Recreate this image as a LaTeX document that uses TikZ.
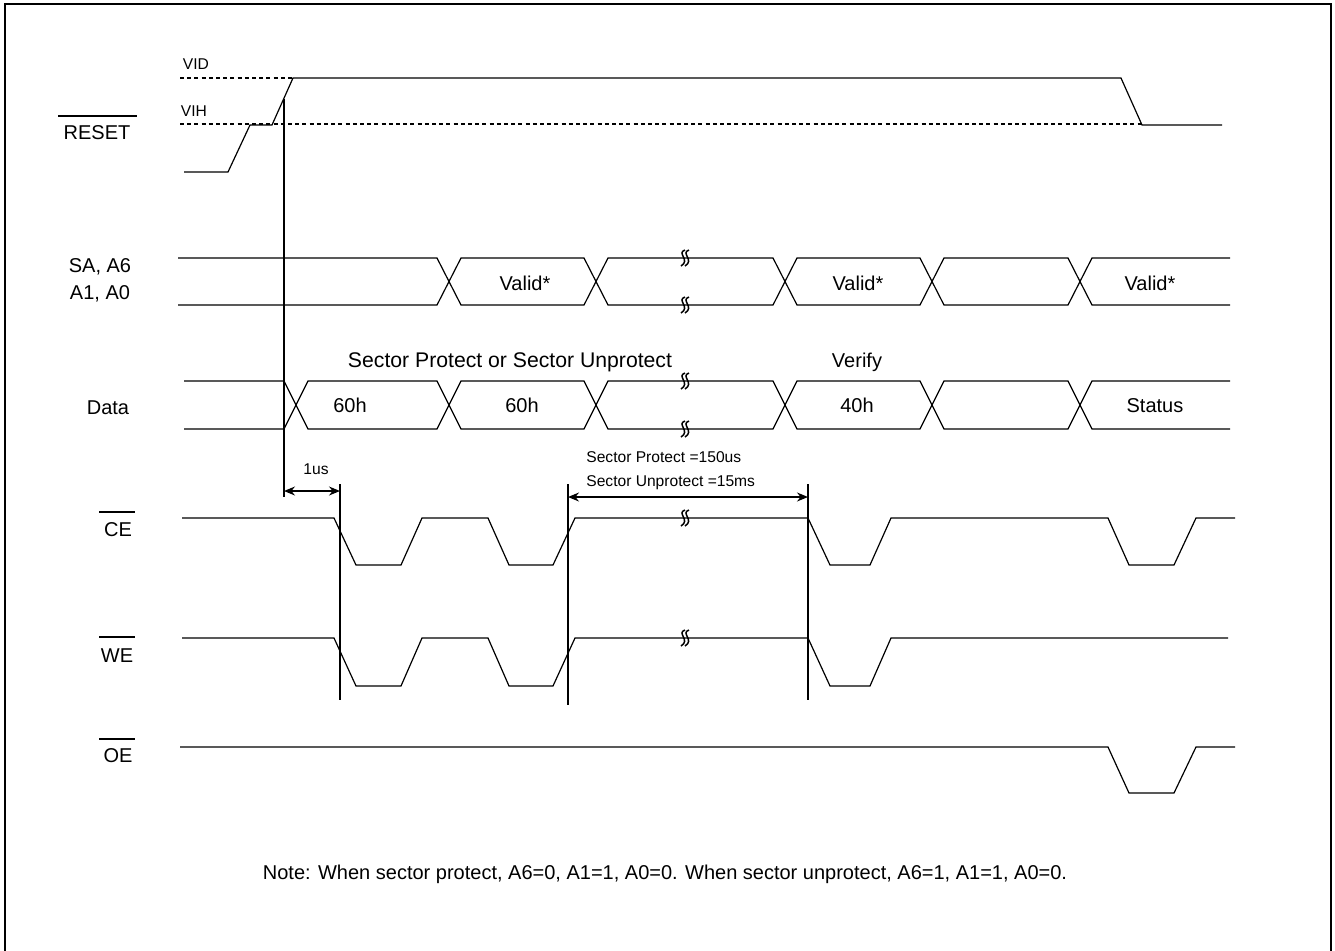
\documentclass[tikz,border=0pt]{standalone}
\usepackage{fontspec}
\setmainfont{Liberation Sans}
\usetikzlibrary{arrows.meta,calc}
\tikzset{
  sig/.style={line width=0.6pt, line join=miter},
  guide/.style={line width=0.6pt},
  dashline/.style={line width=0.6pt, dash pattern=on 2pt off 1.6pt},
  lbl/.style={inner sep=0pt, anchor=base, font=\fontsize{10}{12}\selectfont},
  big/.style={inner sep=0pt, anchor=base, font=\fontsize{10.6}{12}\selectfont},
  small/.style={inner sep=0pt, anchor=base, font=\fontsize{7.8}{9}\selectfont},
  dim/.style={line width=0.6pt, {Stealth[length=5.5pt,width=4.5pt]}-{Stealth[length=5.5pt,width=4.5pt]}},
  brk/.pic={
    \draw[line width=0.75pt] (1,-8) .. controls (-8,-5) and (7,2) .. (-3,8);
    \draw[line width=0.75pt] (5,-8) .. controls (-4,-5) and (11,2) .. (1,8);
  }
}
\begin{document}
\begin{tikzpicture}[x=0.5pt,y=-0.5pt]
\useasboundingbox (0,0) rectangle (1335,950);
\begin{scope}
\clip (0,0) rectangle (1335,950);
\draw[line width=1.1pt] (5,970) -- (5,4) -- (1331,4) -- (1331,970);
\end{scope}

% ---------- labels ----------
\node[lbl] (lreset) at (97,139) {RESET};
\draw[line width=0.6pt] (58,116) -- (137,116);
\node[lbl] (lsa) at (100,272) {SA, A6};
\node[lbl] (la1) at (100,299) {A1, A0};
\node[lbl] (ldata) at (108,414) {Data};
\node[lbl] (lce) at (118,536) {CE};
\draw[line width=0.6pt] (99,512) -- (135,512);
\node[lbl] (lwe) at (117,662) {WE};
\draw[line width=0.6pt] (99,637) -- (135,637);
\node[lbl] (loe) at (118,762) {OE};
\draw[line width=0.6pt] (99,739) -- (135,739);

\node[small] (vid) at (196,69) {VID};
\node[small] (vih) at (194,116) {VIH};

% ---------- RESET ----------
\draw[dashline] (180,78) -- (293,78);
\draw[dashline] (180,124) -- (1142,124);
\draw[sig] (184,172) -- (228,172) -- (250,125) -- (272,125) -- (293,78) -- (1121,78) -- (1142,125) -- (1222,125);

% ---------- SA bus ----------
\draw[sig] (178,258) -- (437,258) -- (461,305) -- (584,305) -- (608,258) -- (773,258) -- (797,305) -- (920,305) -- (944,258) -- (1068,258) -- (1092,305) -- (1230,305);
\draw[sig] (178,305) -- (437,305) -- (461,258) -- (584,258) -- (608,305) -- (773,305) -- (797,258) -- (920,258) -- (944,305) -- (1068,305) -- (1092,258) -- (1230,258);
\node[lbl] (v1) at (525,290) {Valid*};
\node[lbl] (v2) at (858,290) {Valid*};
\node[lbl] (v3) at (1150,290) {Valid*};
\pic at (684,258) {brk};
\pic at (684,305) {brk};

% ---------- Data bus ----------
\draw[sig] (184,381) -- (284,381) -- (308,429) -- (437,429) -- (461,381) -- (584,381) -- (608,429) -- (773,429) -- (797,381) -- (920,381) -- (944,429) -- (1068,429) -- (1092,381) -- (1230,381);
\draw[sig] (184,429) -- (284,429) -- (308,381) -- (437,381) -- (461,429) -- (584,429) -- (608,381) -- (773,381) -- (797,429) -- (920,429) -- (944,381) -- (1068,381) -- (1092,429) -- (1230,429);
\node[lbl] (d1) at (350,412) {60h};
\node[lbl] (d2) at (522,412) {60h};
\node[lbl] (d3) at (857,412) {40h};
\node[lbl] (d4) at (1155,412) {Status};
\node[big] (sp) at (510,367) {Sector Protect or Sector Unprotect};
\node[lbl] (vf) at (857,367) {Verify};
\pic at (684,381) {brk};
\pic at (684,429) {brk};

% ---------- guides ----------
\draw[guide] (284,99) -- (284,497);
\draw[guide] (340,484) -- (340,700);
\draw[guide] (568,484) -- (568,705);
\draw[guide] (808,484) -- (808,700);

\coordinate (a1l) at (284,491);
\coordinate (a1r) at (340,491);
\draw[dim] (a1l) -- (a1r);
\node[small] (t1us) at (316,474) {1us};

\coordinate (a2l) at (568,497);
\coordinate (a2r) at (808,497);
\draw[dim] (a2l) -- (a2r);
\node[small, anchor=base west] (tsp) at (586,462) {Sector Protect =150us};
\node[small, anchor=base west] (tsu) at (586,486) {Sector Unprotect =15ms};

% ---------- CE ----------
\draw[sig] (182,518) -- (334,518) -- (356,565) -- (401,565) -- (422,518) -- (488,518) -- (509,565) -- (553,565) -- (575,518) -- (808,518) -- (830,565) -- (870,565) -- (891,518) -- (1108,518) -- (1129,565) -- (1174,565) -- (1196,518) -- (1235,518);
\pic at (684,518) {brk};

% ---------- WE ----------
\draw[sig] (182,638) -- (334,638) -- (356,686) -- (401,686) -- (422,638) -- (488,638) -- (509,686) -- (553,686) -- (575,638) -- (808,638) -- (830,686) -- (870,686) -- (891,638) -- (1228,638);
\pic at (684,638) {brk};

% ---------- OE ----------
\draw[sig] (180,747) -- (1108,747) -- (1129,793) -- (1174,793) -- (1196,747) -- (1235,747);

% ---------- note ----------
\node[lbl] (note) at (665,879) {Note: When sector protect, A6=0, A1=1, A0=0. When sector unprotect, A6=1, A1=1, A0=0.};
\end{tikzpicture}
\end{document}
